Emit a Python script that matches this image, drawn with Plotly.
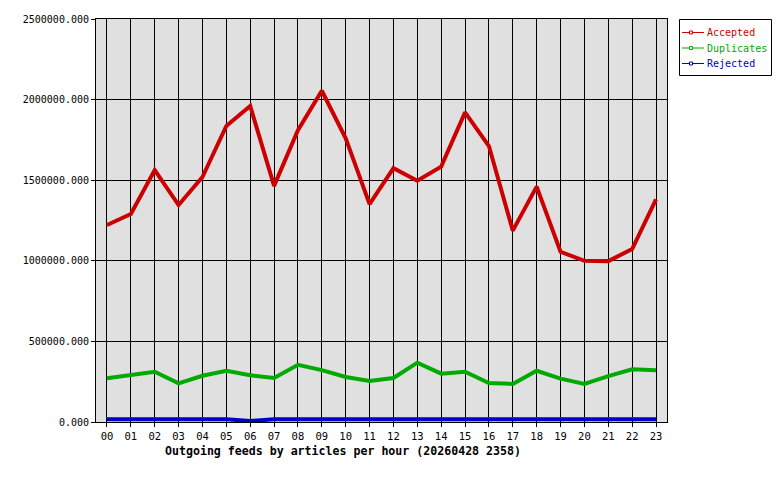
import plotly.graph_objects as go

hours = ["%02d" % h for h in range(24)]
accepted = [1222000, 1290000, 1563000, 1346000, 1520000, 1837000, 1960000, 1465000,
            1810000, 2055000, 1760000, 1352000, 1575000, 1497000, 1584000, 1921000,
            1712000, 1187000, 1460000, 1056000, 1000000, 998000, 1073000, 1381000]
duplicates = [271000, 293000, 312000, 240000, 287000, 318000, 290000, 273000,
              355000, 322000, 279000, 254000, 273000, 368000, 300000, 312000,
              242000, 236000, 318000, 269000, 236000, 285000, 327000, 321000]
rejected = [17000, 17000, 17000, 17000, 17000, 17000, 6000, 17000,
            17000, 17000, 17000, 17000, 17000, 17000, 17000, 17000,
            17000, 17000, 17000, 17000, 17000, 17000, 17000, 17000]
y_ticks = [0, 500000, 1000000, 1500000, 2000000, 2500000]
title_text = "Outgoing feeds by articles per hour (20260428 2358)"
series_names = ["Accepted", "Duplicates", "Rejected"]
series_colors = ["#cc0000", "#00aa00", "#0000cc"]
series_values = [accepted, duplicates, rejected]

W, H = 780, 480
L, R, T, B = 96, 113, 19, 58
PW, PH = W - L - R, H - T - B

def px(x):
    return (x - L) / PW

def py(y):
    return (H - B - y) / PH

mono = "DejaVu Sans Mono"
fig = go.Figure()
for name, vals, col in zip(series_names, series_values, series_colors):
    fig.add_trace(go.Scatter(x=hours, y=vals, mode="lines", name=name,
                             line=dict(color=col, width=4), showlegend=False))

shapes = [dict(type="rect", xref="paper", yref="paper",
               x0=px(679.5), x1=px(771.5), y0=py(19.5), y1=py(75.5),
               line=dict(color="black", width=1), fillcolor="white", layer="above")]
annotations = []
for i, (name, col) in enumerate(zip(series_names, series_colors)):
    yy = 32.5 + i * 15.5
    shapes.append(dict(type="line", xref="paper", yref="paper",
                       x0=px(682), x1=px(704), y0=py(yy), y1=py(yy),
                       line=dict(color=col, width=1), layer="above"))
    shapes.append(dict(type="rect", xref="paper", yref="paper",
                       x0=px(689.5), x1=px(692.5), y0=py(yy - 1.5), y1=py(yy + 1.5),
                       line=dict(color=col, width=1), fillcolor="white", layer="above"))
    annotations.append(dict(text=name, xref="paper", yref="paper",
                            x=px(705), y=py(yy), xanchor="left", yanchor="middle",
                            showarrow=False, font=dict(family=mono, size=10, color=col)))

annotations.append(dict(text="<b>%s</b>" % title_text, xref="paper", yref="paper",
                        x=px(343), y=py(451), xanchor="center", yanchor="middle",
                        showarrow=False, font=dict(family=mono, size=11.6, color="black")))

fig.update_layout(
    width=W, height=H,
    margin=dict(l=L, r=R, t=T, b=B),
    paper_bgcolor="white", plot_bgcolor="#e0e0e0",
    font=dict(family=mono, size=10, color="black"),
    showlegend=False,
    shapes=shapes,
    annotations=annotations,
)
fig.update_xaxes(type="category", range=[-0.46, 23.46],
                 showgrid=True, gridcolor="black", gridwidth=1,
                 showline=True, linecolor="black", linewidth=1, mirror=True,
                 ticks="outside", ticklen=4, tickcolor="black",
                 tickfont=dict(family=mono, size=10.5), zeroline=False)
fig.update_yaxes(range=[0, 2500000], tickvals=y_ticks, tickformat=".3f",
                 showgrid=True, gridcolor="black", gridwidth=1,
                 showline=True, linecolor="black", linewidth=1, mirror=True,
                 ticks="outside", ticklen=4, tickcolor="black",
                 tickfont=dict(family=mono, size=10), zeroline=False)

fig.write_html("out.html", config={"displayModeBar": False},
               post_script="document.body.style.margin='0';document.body.style.overflow='hidden';")
